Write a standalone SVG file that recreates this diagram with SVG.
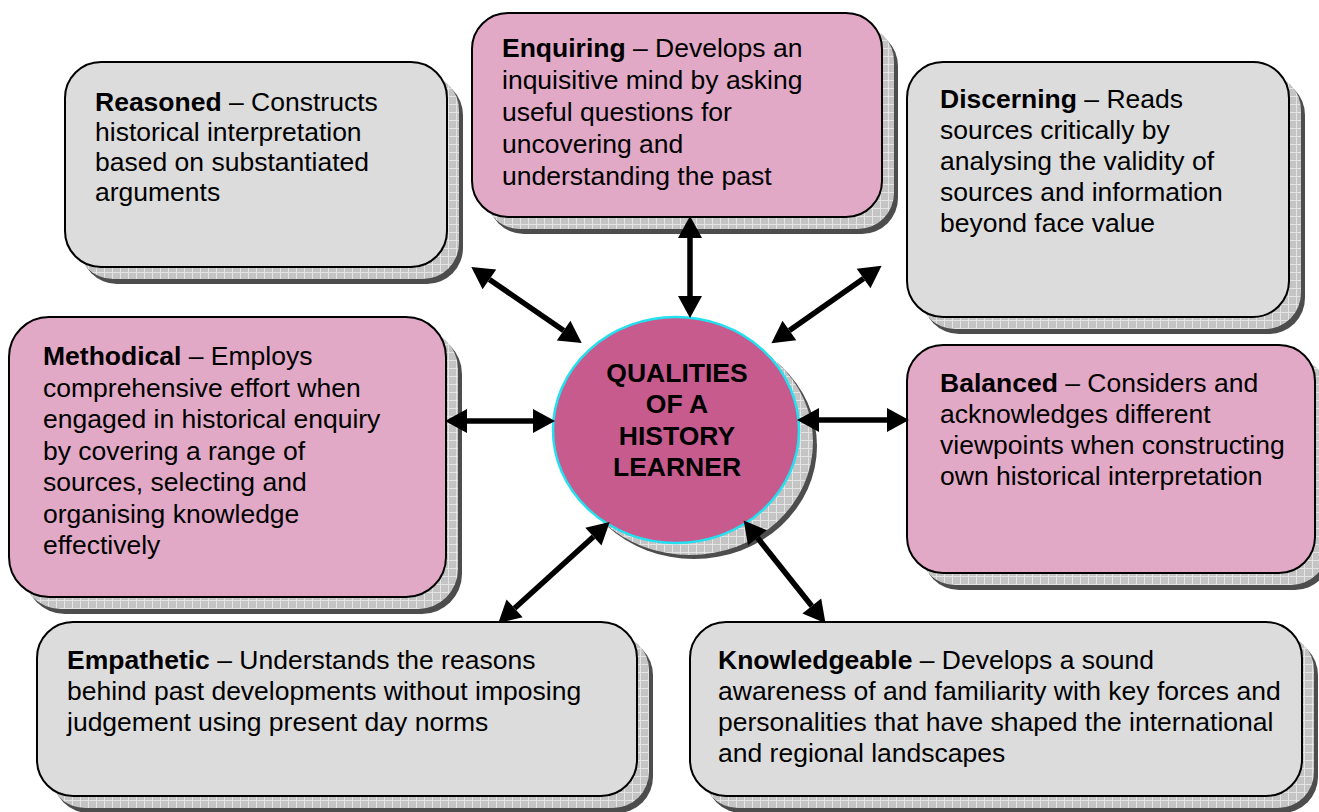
<svg xmlns="http://www.w3.org/2000/svg" width="1319" height="812" viewBox="0 0 1319 812">
<style>
.t{font-family:"Liberation Sans",Arial,sans-serif;font-size:26.5px;fill:#000}
.b{font-weight:bold}
.pink{fill:#e2a9c7;stroke:#000;stroke-width:2}
.gray{fill:#dcdcdc;stroke:#000;stroke-width:2}
.sd{fill:#4d4d4d}
.sg{fill:url(#grid)}
.c{font-family:"Liberation Sans",Arial,sans-serif;font-size:26.5px;font-weight:bold;text-anchor:middle;fill:#000}
.arr{stroke:#000;stroke-width:5.5;fill:none;marker-start:url(#ah);marker-end:url(#ah)}
</style>
<defs>
<pattern id="grid" width="8" height="8" patternUnits="userSpaceOnUse">
<rect width="8" height="8" fill="#c4c4c4"/>
<path d="M0 0.5H8M0.5 0V8" stroke="#e4e4e4" stroke-width="1"/>
</pattern>
<marker id="ah" markerUnits="userSpaceOnUse" markerWidth="24" markerHeight="26" refX="0" refY="12" orient="auto-start-reverse" overflow="visible">
<path d="M0,0 L22,12 L0,24 Z" fill="#000"/>
</marker>
</defs>
<rect width="1319" height="812" fill="#fff"/>

<g id="reasoned">
<rect class="sd" x="81" y="79" width="382" height="205" rx="36"/>
<rect class="sg" x="77" y="74" width="382" height="205" rx="36"/>
<rect class="gray" x="65" y="62" width="382" height="205" rx="36"/>
<text class="t" x="95" y="111"><tspan class="b">Reasoned</tspan> – Constructs</text>
<text class="t" x="95" y="141">historical interpretation</text>
<text class="t" x="95" y="171">based on substantiated</text>
<text class="t" x="95" y="201">arguments</text>
</g>

<g id="enquiring">
<rect class="sd" x="488" y="30" width="410" height="204" rx="36"/>
<rect class="sg" x="484" y="25" width="410" height="204" rx="36"/>
<rect class="pink" x="472" y="13" width="410" height="204" rx="36"/>
<text class="t" x="502" y="57"><tspan class="b">Enquiring</tspan> – Develops an</text>
<text class="t" x="502" y="89">inquisitive mind by asking</text>
<text class="t" x="502" y="121">useful questions for</text>
<text class="t" x="502" y="153">uncovering and</text>
<text class="t" x="502" y="185">understanding the past</text>
</g>

<g id="discerning">
<rect class="sd" x="923" y="79" width="382" height="255" rx="36"/>
<rect class="sg" x="919" y="74" width="382" height="255" rx="36"/>
<rect class="gray" x="907" y="62" width="382" height="255" rx="36"/>
<text class="t" x="940" y="108"><tspan class="b">Discerning</tspan> – Reads</text>
<text class="t" x="940" y="139">sources critically by</text>
<text class="t" x="940" y="170">analysing the validity of</text>
<text class="t" x="940" y="201">sources and information</text>
<text class="t" x="940" y="232">beyond face value</text>
</g>

<g id="methodical">
<rect class="sd" x="25" y="334" width="437" height="280" rx="40"/>
<rect class="sg" x="21" y="329" width="437" height="280" rx="40"/>
<rect class="pink" x="9" y="317" width="437" height="280" rx="40"/>
<text class="t" x="43" y="365"><tspan class="b">Methodical</tspan> – Employs</text>
<text class="t" x="43" y="397">comprehensive effort when</text>
<text class="t" x="43" y="428">engaged in historical enquiry</text>
<text class="t" x="43" y="460">by covering a range of</text>
<text class="t" x="43" y="491">sources, selecting and</text>
<text class="t" x="43" y="523">organising knowledge</text>
<text class="t" x="43" y="554">effectively</text>
</g>

<g id="balanced">
<rect class="sd" x="923" y="362" width="408" height="228" rx="36"/>
<rect class="sg" x="919" y="357" width="408" height="228" rx="36"/>
<rect class="pink" x="907" y="345" width="408" height="228" rx="36"/>
<text class="t" x="940" y="392"><tspan class="b">Balanced</tspan> – Considers and</text>
<text class="t" x="940" y="423">acknowledges different</text>
<text class="t" x="940" y="454">viewpoints when constructing</text>
<text class="t" x="940" y="485">own historical interpretation</text>
</g>

<g id="empathetic">
<rect class="sd" x="53" y="639" width="600" height="174" rx="36"/>
<rect class="sg" x="49" y="634" width="600" height="174" rx="36"/>
<rect class="gray" x="37" y="622" width="600" height="174" rx="36"/>
<text class="t" x="67" y="669"><tspan class="b">Empathetic</tspan> – Understands the reasons</text>
<text class="t" x="67" y="700">behind past developments without imposing</text>
<text class="t" x="67" y="731">judgement using present day norms</text>
</g>

<g id="knowledgeable">
<rect class="sd" x="706" y="639" width="612" height="174" rx="36"/>
<rect class="sg" x="702" y="634" width="612" height="174" rx="36"/>
<rect class="gray" x="690" y="622" width="612" height="174" rx="36"/>
<text class="t" x="718" y="669"><tspan class="b">Knowledgeable</tspan> – Develops a sound</text>
<text class="t" x="718" y="700">awareness of and familiarity with key forces and</text>
<text class="t" x="718" y="731">personalities that have shaped the international</text>
<text class="t" x="718" y="762">and regional landscapes</text>
</g>

<g id="center">
<ellipse class="sd" cx="694" cy="446" rx="123" ry="113"/>
<ellipse class="sg" cx="690" cy="442" rx="123" ry="113"/>
<ellipse cx="676" cy="430" rx="123" ry="113" fill="#c75b8e" stroke="#22e0f0" stroke-width="2.5"/>
<text class="c" x="677" y="382">QUALITIES</text>
<text class="c" x="677" y="413">OF A</text>
<text class="c" x="677" y="445">HISTORY</text>
<text class="c" x="677" y="476">LEARNER</text>
</g>

<g id="connectors">
<line class="arr" x1="690" y1="238" x2="690" y2="296"/>
<line class="arr" x1="489.4" y1="279.4" x2="563.6" y2="330.6"/>
<line class="arr" x1="863.6" y1="278.5" x2="789.4" y2="330.5"/>
<line class="arr" x1="467" y1="421" x2="533" y2="421"/>
<line class="arr" x1="819" y1="420" x2="887" y2="420"/>
<line class="arr" x1="514.6" y1="608.3" x2="593.4" y2="536.7"/>
<line class="arr" x1="757.4" y1="537.7" x2="811.8" y2="606"/>
</g>
</svg>
